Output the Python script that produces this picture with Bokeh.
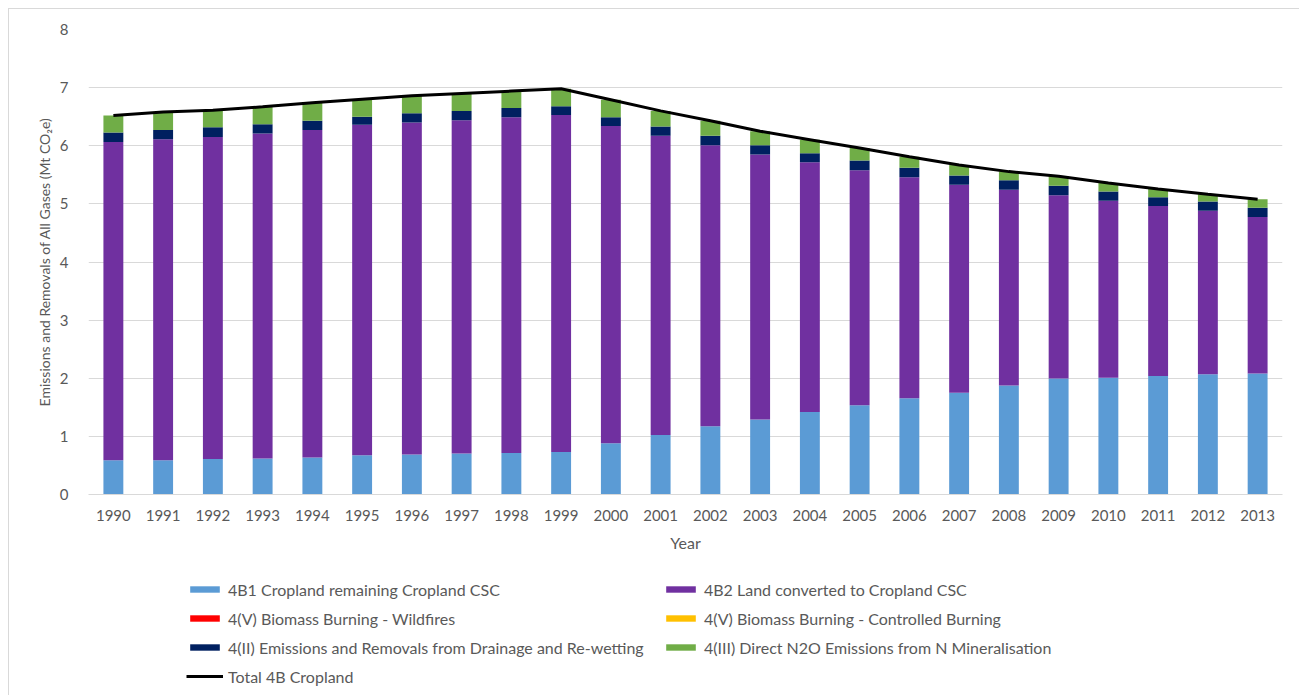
from bokeh.plotting import figure
from bokeh.layouts import column
from bokeh.models import ColumnDataSource, FactorRange, FixedTicker, Legend, LegendItem, Range1d
from bokeh.embed import file_html
from bokeh.resources import INLINE

years = [str(y) for y in range(1990, 2014)]
cropland_remaining = [0.59, 0.59, 0.61, 0.62, 0.635, 0.675, 0.69, 0.705, 0.716, 0.733,
                      0.88, 1.025, 1.175, 1.29, 1.42, 1.535, 1.656, 1.75, 1.875, 1.995,
                      2.01, 2.04, 2.07, 2.08]
land_converted = [5.475, 5.52, 5.54, 5.59, 5.635, 5.685, 5.71, 5.735, 5.774, 5.797,
                  5.46, 5.145, 4.835, 4.56, 4.295, 4.045, 3.804, 3.58, 3.37, 3.155,
                  3.045, 2.925, 2.81, 2.695]
wildfires = [0.0] * 24
controlled_burning = [0.0] * 24
drainage = [0.165, 0.16, 0.17, 0.16, 0.16, 0.14, 0.16, 0.16, 0.16, 0.15,
            0.15, 0.16, 0.16, 0.16, 0.155, 0.165, 0.16, 0.16, 0.16, 0.16,
            0.16, 0.15, 0.16, 0.16]
n_mineralisation = [0.29, 0.31, 0.29, 0.30, 0.31, 0.30, 0.30, 0.30, 0.29, 0.30,
                    0.30, 0.27, 0.26, 0.24, 0.235, 0.215, 0.19, 0.18, 0.15, 0.165,
                    0.145, 0.14, 0.125, 0.145]
total = [6.52, 6.58, 6.61, 6.67, 6.74, 6.80, 6.86, 6.90, 6.94, 6.98,
         6.79, 6.60, 6.43, 6.25, 6.105, 5.96, 5.81, 5.67, 5.555, 5.475,
         5.36, 5.255, 5.165, 5.08]
y_ticks = [0, 1, 2, 3, 4, 5, 6, 7, 8]

series = ["cropland_remaining", "land_converted", "wildfires", "controlled_burning",
          "drainage", "n_mineralisation"]
labels = ["4B1 Cropland remaining Cropland CSC", "4B2 Land converted to Cropland CSC",
          "4(V) Biomass Burning - Wildfires", "4(V) Biomass Burning - Controlled Burning",
          "4(II) Emissions and Removals from Drainage and Re-wetting",
          "4(III) Direct N2O Emissions from N Mineralisation"]
total_label = "Total 4B Cropland"
colors = ["#5B9BD5", "#7030A0", "#FF0000", "#FFC000", "#002060", "#70AD47"]

source = ColumnDataSource(dict(years=years, cropland_remaining=cropland_remaining,
                               land_converted=land_converted, wildfires=wildfires,
                               controlled_burning=controlled_burning, drainage=drainage,
                               n_mineralisation=n_mineralisation, total=total))

FONT = "Lato"
GREY = "#595959"

# ---- main chart ----
p = figure(x_range=FactorRange(*years), y_range=Range1d(0, 8),
           width=1290, height=545, output_backend="svg", toolbar_location=None,
           min_border_left=79, min_border_right=17, min_border_top=20, min_border_bottom=60)
p.outline_line_color = None

bars = p.vbar_stack(series, x="years", width=0.4, color=colors, line_color=None, source=source)
line = p.line(x="years", y="total", source=source, line_color="black", line_width=3)

p.yaxis.ticker = FixedTicker(ticks=y_ticks)
p.ygrid.grid_line_color = "#d9d9d9"
p.xgrid.grid_line_color = None
p.yaxis.axis_line_color = None
p.yaxis.major_tick_line_color = None
p.yaxis.minor_tick_line_color = None
p.yaxis.major_label_standoff = 14
p.yaxis.axis_label = "Emissions and Removals of All Gases (Mt CO\u2082e)"
p.yaxis.axis_label_standoff = 4
p.xaxis.axis_line_color = "#d9d9d9"
p.xaxis.major_tick_line_color = None
p.xaxis.minor_tick_line_color = None
p.xaxis.major_label_standoff = 9
p.xaxis.axis_label = "Year"
p.xaxis.axis_label_standoff = 9
for ax in (p.xaxis, p.yaxis):
    ax.major_label_text_font = FONT
    ax.major_label_text_font_size = "15px"
    ax.major_label_text_color = GREY
    ax.axis_label_text_font = FONT
    ax.axis_label_text_font_style = "normal"
    ax.axis_label_text_color = GREY
p.xaxis.axis_label_text_font_size = "16px"
p.yaxis.axis_label_text_font_size = "14px"

# ---- legend strip below the chart (key renderers are hidden copies) ----
lf = figure(width=1290, height=141, output_backend="svg", toolbar_location=None,
            x_range=FactorRange(*years), y_range=Range1d(0, 8),
            min_border=0, x_axis_location=None, y_axis_location=None)
lf.outline_line_color = None
lf.grid.grid_line_color = None
key_bars = lf.vbar_stack(series, x="years", width=0.4, color=colors, line_color=None,
                         source=source, visible=False)
key_line = lf.line(x="years", y="total", source=source, line_color="black", line_width=3,
                   visible=False)

legend = Legend(items=[
    LegendItem(label=labels[0], renderers=[key_bars[0]]),
    LegendItem(label=labels[1], renderers=[key_bars[1]]),
    LegendItem(label=labels[2], renderers=[key_bars[2]]),
    LegendItem(label=labels[3], renderers=[key_bars[3]]),
    LegendItem(label=labels[4], renderers=[key_bars[4]]),
    LegendItem(label=labels[5], renderers=[key_bars[5]]),
    LegendItem(label=total_label, renderers=[key_line]),
], location=(98, 9), orientation="horizontal", ncols=2,
    glyph_width=37, glyph_height=8, label_height=20, label_width=425, spacing=9,
    label_standoff=5, padding=0, margin=0, inactive_fill_alpha=0,
    border_line_color=None, background_fill_alpha=0,
    label_text_font=FONT, label_text_font_size="16px", label_text_color=GREY)
lf.add_layout(legend, "center")

layout = column(p, lf, spacing=0)
layout.styles = {"margin-left": "8px", "margin-top": "8px",
                 "border-left": "1px solid #d9d9d9", "border-top": "1px solid #d9d9d9"}

open("out.html", "w").write(file_html(layout, INLINE))
